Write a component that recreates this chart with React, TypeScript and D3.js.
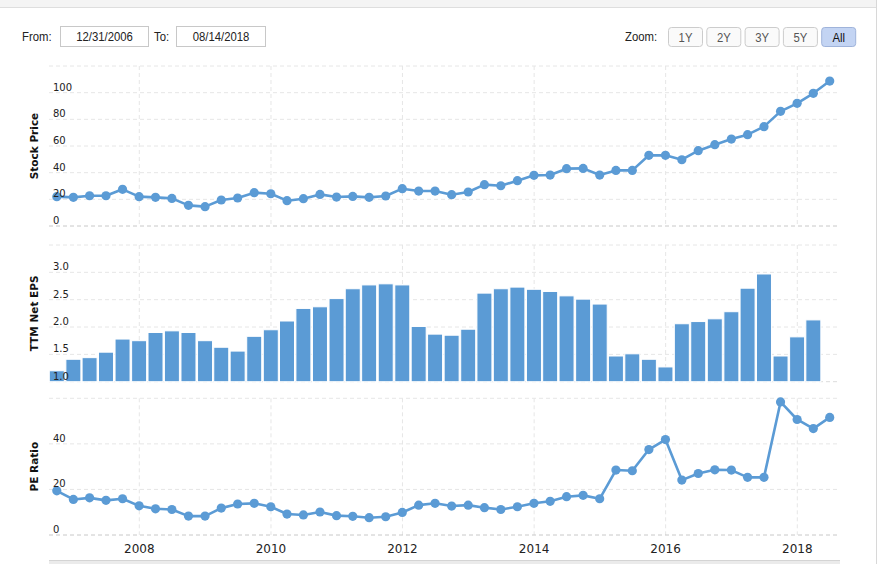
import * as d3 from "d3";

// quarter ends shown on the chart
const quarters = [
  "2006-09-30", "2006-12-31",
  "2007-03-31", "2007-06-30", "2007-09-30", "2007-12-31",
  "2008-03-31", "2008-06-30", "2008-09-30", "2008-12-31",
  "2009-03-31", "2009-06-30", "2009-09-30", "2009-12-31",
  "2010-03-31", "2010-06-30", "2010-09-30", "2010-12-31",
  "2011-03-31", "2011-06-30", "2011-09-30", "2011-12-31",
  "2012-03-31", "2012-06-30", "2012-09-30", "2012-12-31",
  "2013-03-31", "2013-06-30", "2013-09-30", "2013-12-31",
  "2014-03-31", "2014-06-30", "2014-09-30", "2014-12-31",
  "2015-03-31", "2015-06-30", "2015-09-30", "2015-12-31",
  "2016-03-31", "2016-06-30", "2016-09-30", "2016-12-31",
  "2017-03-31", "2017-06-30", "2017-09-30", "2017-12-31",
  "2018-03-31", "2018-06-30",
];

const stockPrice = [
  22.0, 21.5, 22.7, 22.7, 27.5, 22.0, 21.5, 20.7, 15.5, 14.5,
  19.5, 21.0, 25.0, 24.2, 19.0, 20.5, 23.7, 21.7, 22.2, 21.5,
  22.5, 28.0, 26.2, 26.2, 23.5, 25.5, 31.0, 30.2, 34.0, 38.0,
  38.2, 43.0, 43.2, 38.2, 41.7, 41.7, 53.0, 53.0, 49.7, 56.5,
  61.0, 65.2, 68.5, 74.5, 86.0, 92.0, 99.5, 108.7,
];

const ttmEps: (number | null)[] = [
  1.20, 1.41, 1.44, 1.54, 1.78, 1.75, 1.90, 1.93, 1.90, 1.75,
  1.63, 1.56, 1.83, 1.95, 2.11, 2.34, 2.37, 2.52, 2.70, 2.77,
  2.79, 2.77, 2.01, 1.87, 1.85, 1.96, 2.62, 2.70, 2.73, 2.69,
  2.65, 2.57, 2.51, 2.42, 1.47, 1.51, 1.41, 1.27, 2.06, 2.10,
  2.15, 2.28, 2.71, 2.97, 1.47, 1.82, 2.13, null,
];

const peRatio = [
  19.4, 15.6, 16.3, 15.2, 15.9, 12.8, 11.5, 11.2, 8.3, 8.3,
  11.8, 13.6, 13.9, 12.4, 9.2, 8.8, 10.1, 8.5, 8.2, 7.6,
  8.0, 9.9, 13.1, 13.9, 12.7, 13.1, 12.0, 11.2, 12.4, 13.9,
  14.8, 16.8, 17.4, 15.9, 28.5, 28.2, 37.5, 41.9, 24.1, 27.0,
  28.6, 28.5, 25.3, 25.3, 58.4, 50.7, 46.7, 51.6,
];

const stockTicks = [0, 20, 40, 60, 80, 100, 120];
const epsTicks = [1.0, 1.5, 2.0, 2.5, 3.0, 3.5];
const peTicks = [0, 20, 40, 60];
const zoomButtons = ["1Y", "2Y", "3Y", "5Y", "All"];

const W = 883;
const H = 564;
const BLUE = "#5b9bd5";
const LEFT = 49;
const RIGHT = 837;
const AXIS_FONT = "'DejaVu Sans', Verdana, sans-serif";
const UI_FONT = "'Liberation Sans Narrow', 'Arial Narrow', 'Liberation Sans', sans-serif";

const parse = d3.timeParse("%Y-%m-%d");
const dates = quarters.map(q => parse(q)!);

const x = d3.scaleTime()
  .domain([new Date(2008, 0, 1), new Date(2018, 0, 1)])
  .range([139.3, 797.3]);

const yStock = d3.scaleLinear().domain([0, 120]).range([226, 66]);
const yEps = d3.scaleLinear().domain([1.0, 3.5]).range([381.7, 245]);
const yPe = d3.scaleLinear().domain([0, 60]).range([535, 398.3]);

const yearTicks = d3.timeYear.every(2)!.range(x.invert(LEFT), x.invert(RIGHT));

// header text drawn a bit condensed, like the narrow UI font of the original
function UiText({ x: tx, y: ty, anchor = "start", fill = "#222", children }: {
  x: number; y: number; anchor?: string; fill?: string; children: string;
}) {
  return (
    <text transform={`translate(${tx},${ty}) scale(0.84,1)`} textAnchor={anchor}
      fontFamily={UI_FONT} fontSize={13.5} fill={fill}>{children}</text>
  );
}

function Panel({ y, ticks, title, baseColor }: {
  y: d3.ScaleLinear<number, number>;
  ticks: number[];
  title: string;
  baseColor: string;
}) {
  const [bottom, top] = y.range();
  return (
    <g>
      {yearTicks.map((d, i) => (
        <line key={"v" + i} x1={x(d)} x2={x(d)} y1={top} y2={bottom}
          stroke="#e6e6e6" strokeDasharray="4,3" />
      ))}
      {ticks.map((t, i) => (
        <line key={"h" + i} x1={LEFT} x2={RIGHT} y1={y(t)} y2={y(t)}
          stroke={i === 0 ? baseColor : "#e6e6e6"} strokeDasharray="4,3" />
      ))}
      <text transform={`translate(37.5,${(top + bottom) / 2}) rotate(-90)`}
        textAnchor="middle" fontFamily={AXIS_FONT} fontSize={10.5}
        fontWeight="bold" fill="#111">{title}</text>
    </g>
  );
}

function Labels({ y, ticks, fmt }: {
  y: d3.ScaleLinear<number, number>;
  ticks: number[];
  fmt: (v: number) => string;
}) {
  // top tick label is hidden, as in the original
  return (
    <g>
      {ticks.slice(0, -1).map((t, i) => (
        <text key={i} x={53} y={y(t) - 2} fontFamily={AXIS_FONT} fontSize={10}
          fill="#222">{fmt(t)}</text>
      ))}
    </g>
  );
}

function DotLine({ y, values }: { y: d3.ScaleLinear<number, number>; values: number[] }) {
  const line = d3.line<number>()
    .x((_, i) => x(dates[i]))
    .y(v => y(v));
  return (
    <g>
      <path d={line(values) || ""} fill="none" stroke={BLUE} strokeWidth={2.6}
        strokeLinejoin="round" />
      {values.map((v, i) => (
        <circle key={i} cx={x(dates[i])} cy={y(v)} r={4.6} fill={BLUE} />
      ))}
    </g>
  );
}

export default function App() {
  const barW = 15;
  return (
    <div style={{ position: "fixed", left: 0, top: 0, width: W, height: H, background: "#fff" }}>
      <svg width={W} height={H} style={{ display: "block" }}>
        {/* top strip and right border */}
        <rect x={0} y={0} width={876} height={7} fill="#f4f4f4" />
        <line x1={0} x2={876} y1={7.5} y2={7.5} stroke="#dedede" />
        <line x1={876.5} x2={876.5} y1={0} y2={H} stroke="#d8d8d8" />

        {/* date inputs */}
        <UiText x={22} y={41}>From:</UiText>
        <rect x={60.5} y={26.5} width={88} height={20} fill="#fff" stroke="#c8c8c8" />
        <UiText x={104.5} y={41} anchor="middle">12/31/2006</UiText>
        <UiText x={154} y={41}>To:</UiText>
        <rect x={176.5} y={26.5} width={89} height={20} fill="#fff" stroke="#c8c8c8" />
        <UiText x={221} y={41} anchor="middle">08/14/2018</UiText>

        {/* zoom buttons */}
        <UiText x={625} y={41}>Zoom:</UiText>
        {zoomButtons.map((b, i) => {
          const bx = 668 + i * 38.3;
          const active = b === "All";
          return (
            <g key={b}>
              <rect x={bx + 0.5} y={27.5} width={34} height={19} rx={3}
                fill={active ? "#c3d4f3" : "#fafafa"} stroke={active ? "#9fb3da" : "#cccccc"} />
              <UiText x={bx + 17.5} y={41.5} anchor="middle" fill={active ? "#111" : "#555"}>{b}</UiText>
            </g>
          );
        })}

        {/* panels: grid + titles */}
        <Panel y={yStock} ticks={stockTicks} title="Stock Price" baseColor="#c8c8c8" />
        <Panel y={yEps} ticks={epsTicks} title="TTM Net EPS" baseColor="#dcdcdc" />
        <Panel y={yPe} ticks={peTicks} title="PE Ratio" baseColor="#c8c8c8" />

        {/* EPS bars */}
        {ttmEps.map((v, i) => v == null ? null : (
          <rect key={i} x={x(dates[i]) - barW / 2} y={yEps(v)} width={barW}
            height={yEps(1.0) - yEps(v)} fill={BLUE} stroke="#fff" strokeWidth={1} />
        ))}

        <DotLine y={yStock} values={stockPrice} />
        <DotLine y={yPe} values={peRatio} />

        <Labels y={yStock} ticks={stockTicks} fmt={String} />
        <Labels y={yEps} ticks={epsTicks} fmt={v => v.toFixed(1)} />
        <Labels y={yPe} ticks={peTicks} fmt={String} />

        {/* x axis labels */}
        {yearTicks.map((d, i) => (
          <text key={i} x={x(d)} y={553} textAnchor="middle" fontFamily={AXIS_FONT}
            fontSize={12} fill="#222">{d3.timeFormat("%Y")(d)}</text>
        ))}

        {/* navigator strip at the bottom */}
        <rect x={LEFT} y={560} width={791} height={6} fill="#ebebeb" />
        <line x1={LEFT} x2={840} y1={560.5} y2={560.5} stroke="#d4d4d4" />
      </svg>
    </div>
  );
}
